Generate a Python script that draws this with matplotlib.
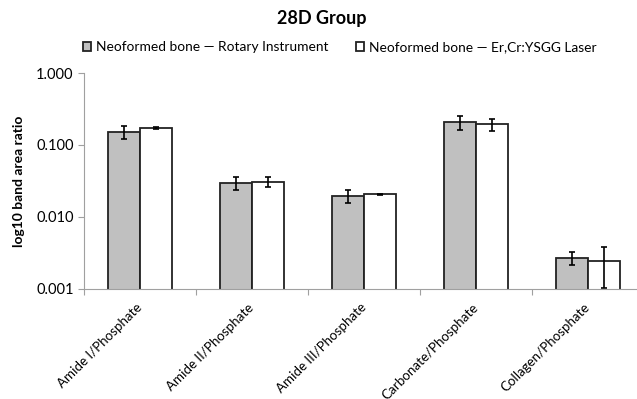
import matplotlib
matplotlib.use("Agg")
import matplotlib.pyplot as plt
import numpy as np

plt.rcParams['font.family'] = ['Lato', 'DejaVu Sans']

# band area ratios (mean and SD) per group
categories = ['Amide I/Phosphate', 'Amide II/Phosphate', 'Amide III/Phosphate',
              'Carbonate/Phosphate', 'Collagen/Phosphate']
rotary_mean = [0.152, 0.0294, 0.0194, 0.207, 0.0027]
rotary_sd = [0.031, 0.0060, 0.0040, 0.043, 0.00055]
laser_mean = [0.172, 0.0309, 0.0207, 0.193, 0.00245]
laser_sd = [0.005, 0.0048, 0.0003, 0.037, 0.00142]
series_names = ['Neoformed bone \u2014 Rotary Instrument',
                'Neoformed bone \u2014 Er,Cr:YSGG Laser']
ytick_vals = [0.001, 0.01, 0.1, 1.0]

fig = plt.figure(figsize=(6.37, 3.99), dpi=100)
ax = fig.add_axes([0.132, 0.276, 0.879, 0.541])

x = np.arange(len(categories))
w = 0.285
err_kw = dict(ecolor='black', elinewidth=1.2, capsize=2.5, capthick=1.2)
ax.bar(x - w / 2, rotary_mean, w, yerr=rotary_sd, color='#c0c0c0',
       edgecolor='#222222', linewidth=1.3, error_kw=err_kw, label=series_names[0])
ax.bar(x + w / 2, laser_mean, w, yerr=laser_sd, color='white',
       edgecolor='#222222', linewidth=1.3, error_kw=err_kw, label=series_names[1])

ax.set_yscale('log')
ax.set_ylim(0.001, 1.0)
ax.set_yticks(ytick_vals)
ax.set_yticklabels(['%.3f' % v for v in ytick_vals])
ax.yaxis.set_minor_locator(matplotlib.ticker.NullLocator())
ax.set_xlim(-0.5, len(categories) - 0.5)

# separators between categories as major ticks, names as minor ticks
ax.set_xticks(np.arange(len(categories) + 1) - 0.5)
ax.set_xticklabels([])
ax.set_xticks(x, minor=True)
ax.set_xticklabels(categories, minor=True, rotation=45, ha='right', va='center',
                   rotation_mode='anchor', fontsize=9.6)
ax.tick_params(axis='x', which='minor', length=0, pad=12)
ax.tick_params(axis='x', which='major', length=4, color='#a0a0a0')
ax.tick_params(axis='y', length=4, color='#a0a0a0', labelsize=10.5)

for s in ['top', 'right']:
    ax.spines[s].set_visible(False)
for s in ['left', 'bottom']:
    ax.spines[s].set_color('#a0a0a0')

ax.set_ylabel('log10 band area ratio', fontsize=10, fontweight='bold')
ax.yaxis.set_label_coords(-0.105, 0.5)

fig.suptitle('28D Group', x=0.505, y=0.975, fontsize=13, fontweight='bold')
fig.legend(loc='center', bbox_to_anchor=(0.533, 0.882), ncol=2, frameon=False,
           fontsize=9.9, handlelength=0.6, handleheight=0.6, handletextpad=0.35,
           columnspacing=2.0)

fig.savefig('out.png', dpi=100)
